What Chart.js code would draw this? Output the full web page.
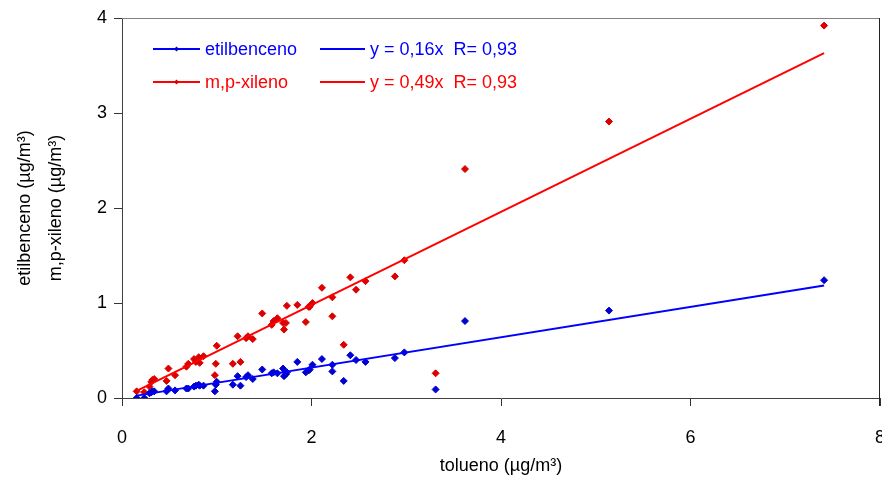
<!DOCTYPE html>
<html><head><meta charset="utf-8">
<script src="https://cdn.jsdelivr.net/npm/chart.js@4/dist/chart.umd.min.js"></script>
<style>html,body{margin:0;padding:0;background:#fff;overflow:hidden}#wrap{width:882px;height:477px;position:relative}</style>
</head><body><div id="wrap"><canvas id="c" width="882" height="477"></canvas></div>
<script>
// toluene (x), etilbenceno (blue), m,p-xileno (red)
const toluene = [0.155,0.235,0.29,0.31,0.32,0.34,0.47,0.49,0.56,0.68,0.70,0.76,0.78,0.81,0.82,0.86,0.98,0.99,1.00,1.17,1.22,1.25,1.31,1.33,1.38,1.48,1.58,1.60,1.64,1.70,1.71,1.73,1.74,1.85,1.94,1.97,1.98,2.01,2.11,2.22,2.22,2.34,2.41,2.47,2.57,2.88,2.98,3.31,3.62,5.14,7.41];
const etilbenceno = [0.00,0.00,0.05,0.06,0.07,0.07,0.07,0.10,0.08,0.10,0.10,0.12,0.13,0.14,0.13,0.13,0.07,0.14,0.17,0.14,0.23,0.13,0.22,0.24,0.20,0.30,0.26,0.27,0.26,0.31,0.23,0.25,0.27,0.38,0.27,0.29,0.30,0.35,0.41,0.35,0.28,0.18,0.45,0.40,0.38,0.42,0.48,0.09,0.81,0.92,1.24];
const mpXileno = [0.07,0.06,0.12,0.17,0.19,0.20,0.18,0.31,0.24,0.33,0.36,0.41,0.38,0.43,0.37,0.44,0.24,0.36,0.55,0.36,0.65,0.38,0.63,0.65,0.62,0.89,0.77,0.81,0.84,0.79,0.72,0.79,0.97,0.98,0.80,0.96,0.96,1.00,1.16,1.06,0.86,0.56,1.27,1.14,1.23,1.28,1.45,0.26,2.41,2.91,3.92];
const trendX = [0.155, 7.41];
const trendEtil = [0.025, 1.185];
const trendXil = [0.076, 3.63];
const seriesLabels = ['etilbenceno', 'm,p-xileno'];
const trendLabels = ['y = 0,16x  R= 0,93', 'y = 0,49x  R= 0,93'];
const xTicks = [0, 2, 4, 6, 8];
const yTicks = [0, 1, 2, 3, 4];

const FONT = "'Liberation Sans', Arial, sans-serif";
const BLUE = '#0000ff', RED = '#ff0000';
const BLUE_PT = '#0000d0', RED_PT = '#dd0000';

const pts = (xs, ys) => xs.map((x, i) => ({x, y: ys[i]}));

const framePlugin = {
  id: 'frame',
  beforeDatasetsDraw(chart) {
    const {ctx, chartArea: a} = chart;
    ctx.save();
    ctx.lineWidth = 1;
    ctx.strokeStyle = '#808080';
    ctx.beginPath();
    ctx.moveTo(a.left, a.top + 0.5);
    ctx.lineTo(a.right, a.top + 0.5);
    ctx.stroke();
    ctx.strokeStyle = '#222';
    ctx.beginPath();
    ctx.moveTo(a.right - 0.5, a.top);
    ctx.lineTo(a.right - 0.5, a.bottom + 8);
    ctx.stroke();
    ctx.restore();
  }
};

const legendPlugin = {
  id: 'boxLegend',
  afterDatasetsDraw(chart) {
    const ctx = chart.ctx;
    const ds = chart.data.datasets;
    const entries = [
      {d: ds[0], x0: 153, x1: 200, tx: 205, y: 49, marker: true},
      {d: ds[1], x0: 153, x1: 200, tx: 205, y: 82, marker: true},
      {d: ds[2], x0: 320, x1: 365, tx: 370, y: 49},
      {d: ds[3], x0: 320, x1: 365, tx: 370, y: 82}
    ];
    ctx.save();
    entries.forEach(e => {
      const col = e.d.legendColor;
      ctx.strokeStyle = col;
      ctx.lineWidth = 2;
      ctx.beginPath();
      ctx.moveTo(e.x0, e.y);
      ctx.lineTo(e.x1, e.y);
      ctx.stroke();
      if (e.marker) {
        const mx = (e.x0 + e.x1) / 2, r = 2.5;
        ctx.fillStyle = e.d.backgroundColor;
        ctx.beginPath();
        ctx.moveTo(mx - r, e.y); ctx.lineTo(mx, e.y - r); ctx.lineTo(mx + r, e.y); ctx.lineTo(mx, e.y + r);
        ctx.closePath();
        ctx.fill();
      }
      ctx.fillStyle = col;
      ctx.font = '18px ' + FONT;
      ctx.textBaseline = 'middle';
      ctx.textAlign = 'left';
      ctx.fillText(e.d.label, e.tx, e.y + 1);
    });
    ctx.restore();
  }
};

new Chart(document.getElementById('c'), {
  type: 'scatter',
  data: {
    datasets: [
      {label: seriesLabels[0], data: pts(toluene, etilbenceno), showLine: false,
       pointStyle: 'rectRot', pointRadius: 3.5, pointBorderWidth: 1,
       backgroundColor: BLUE_PT, borderColor: BLUE_PT, legendColor: BLUE, order: 2},
      {label: seriesLabels[1], data: pts(toluene, mpXileno), showLine: false,
       pointStyle: 'rectRot', pointRadius: 3.5, pointBorderWidth: 1,
       backgroundColor: RED_PT, borderColor: RED_PT, legendColor: RED, order: 2},
      {label: trendLabels[0], data: pts(trendX, trendEtil), showLine: true, pointRadius: 0,
       borderColor: BLUE, borderWidth: 2, backgroundColor: BLUE, legendColor: BLUE, order: 1},
      {label: trendLabels[1], data: pts(trendX, trendXil), showLine: true, pointRadius: 0,
       borderColor: RED, borderWidth: 2, backgroundColor: RED, legendColor: RED, order: 1}
    ]
  },
  options: {
    responsive: false,
    devicePixelRatio: 1,
    animation: false,
    layout: {autoPadding: false, padding: {top: 18, right: 2, bottom: 0, left: 0}},
    plugins: {legend: {display: false}, tooltip: {enabled: false}},
    scales: {
      x: {
        type: 'linear', min: 0, max: 8,
        afterBuildTicks: s => { s.ticks = xTicks.map(v => ({value: v})); },
        afterFit: s => { s.height = 79; s.paddingLeft = 0; s.paddingRight = 0; },
        grid: {drawOnChartArea: false, drawTicks: true, tickLength: 8, color: '#333'},
        border: {display: true, color: '#404040', width: 1},
        ticks: {color: '#000', font: {family: FONT, size: 18}, padding: 21, maxRotation: 0},
        title: {display: true, text: 'tolueno (µg/m³)', color: '#000',
                font: {family: FONT, size: 18}, padding: {top: 0, bottom: 0}}
      },
      y: {
        type: 'linear', min: 0, max: 4,
        afterBuildTicks: s => { s.ticks = yTicks.map(v => ({value: v})); },
        afterFit: s => { s.width = 122; s.paddingTop = 0; s.paddingBottom = 0; },
        grid: {drawOnChartArea: false, drawTicks: true, tickLength: 8, color: '#333'},
        border: {display: true, color: '#404040', width: 1},
        ticks: {color: '#000', font: {family: FONT, size: 18}, padding: 7},
        title: {display: true, text: ['etilbenceno (µg/m³)', 'm,p-xileno (µg/m³)'], color: '#000',
                font: {family: FONT, size: 18, lineHeight: '31px'}, padding: {top: 10, bottom: 0}}
      }
    }
  },
  plugins: [framePlugin, legendPlugin]
});
</script>
</body></html>
